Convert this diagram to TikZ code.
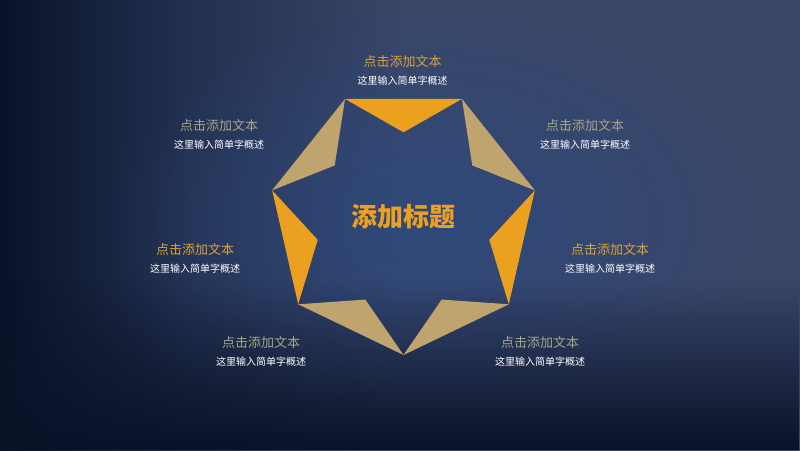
\documentclass[tikz,border=0pt]{standalone}
\usepackage{fontspec}
\newfontfamily\cjk{Noto Sans CJK SC}
\usetikzlibrary{positioning,calc,fadings}

\definecolor{bgdark}{HTML}{0A1228}
\definecolor{bgmid}{HTML}{233150}
\definecolor{bgright}{HTML}{394668}
\definecolor{bgblue}{HTML}{2C4A80}
\definecolor{starorange}{HTML}{EBA11F}
\definecolor{startan}{HTML}{C0A46E}
\definecolor{capgold}{HTML}{D9A23A}
\definecolor{capgray}{HTML}{A6A68A}

\pgfdeclarehorizontalshading{bgside}{100bp}{color(0bp)=(bgdark); color(25bp)=(bgdark); color(37bp)=(bgmid); color(50bp)=(bgright); color(100bp)=(bgright)}
\tikzfading[name=fadeglow, inner color=transparent!25, outer color=transparent!100]
\tikzfading[name=fadebottom, top color=transparent!100, bottom color=transparent!0]

\tikzset{
  caption/.style={font=\cjk\fontsize{13}{15}\selectfont, inner sep=0pt},
  desc/.style={font=\cjk\fontsize{10}{12}\selectfont, text=white, inner sep=0pt},
}

\begin{document}
\begin{tikzpicture}[x=1pt,y=1pt]
\useasboundingbox (0,0) rectangle (800,450);

% Draw the background
\shade[shading=bgside] (0,0) rectangle (800,450);
\fill[bgblue, path fading=fadeglow] (100,20) rectangle (760,440);
\fill[bgdark, path fading=fadebottom] (0,0) rectangle (800,170);

% Draw the star
\coordinate (c) at (403.5,229.7);
\foreach \i in {0,...,6}
{
  \coordinate (o\i) at ($(c)+(-90+\i*360/7:134.7)$);
  \coordinate (m\i) at ($(c)+(-90+\i*360/7+360/14:88)$);
}
\foreach \i/\j/\col in {0/1/startan,1/2/starorange,2/3/startan,3/4/starorange,4/5/startan,5/6/starorange,6/0/startan}
{
  \fill[\col] (o\i) -- (m\i) -- (o\j) -- cycle;
}

% Title in the middle
\node[font=\cjk\bfseries\fontsize{26}{30}\selectfont, text=starorange, inner sep=0pt] (title) at (403,233) {添加标题};

% Labels round the star
\foreach \n/\x/\y/\col in {top/402.5/388/capgold, ul/219/324/capgray, ur/585/324/capgray, l/195/200/capgold, r/610/200/capgold, bl/261/107/capgray, br/540/107/capgray}
{
  \node[caption, text=\col] (cap\n) at (\x,\y) {点击添加文本};
  \node[desc, below=8pt of cap\n] (desc\n) {这里输入简单字概述};
}

\end{tikzpicture}
\end{document}
